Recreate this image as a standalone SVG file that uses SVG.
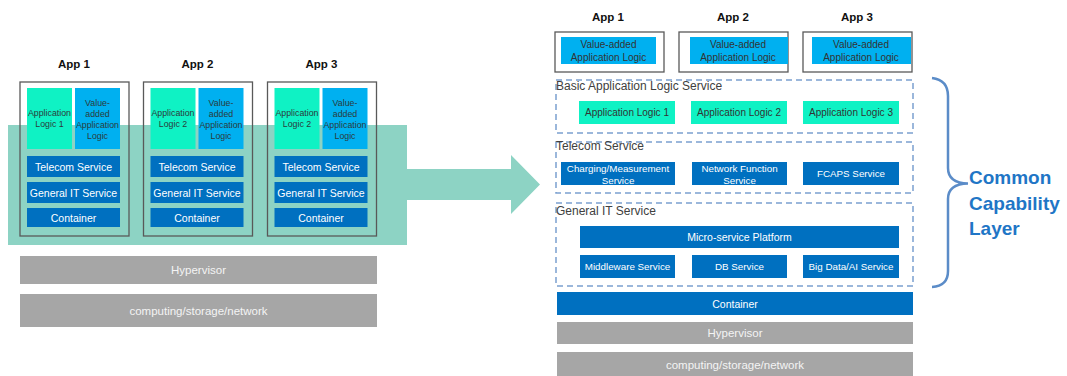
<svg xmlns="http://www.w3.org/2000/svg" width="1067" height="376" viewBox="0 0 1067 376">
<style>
text{font-family:"Liberation Sans",Arial,sans-serif;text-anchor:middle;dominant-baseline:central}
.title{font-weight:bold;font-size:11.5px;fill:#111}
.appbox{fill:none;stroke:#595959;stroke-width:1.3}
.cyan{fill:#0FF2C4}
.va{fill:#00B0F0}
.blue{fill:#0070C0}
.gray{fill:#A6A6A6}
.tsm{font-size:8.8px;fill:#2b3b3b}
.tw{font-size:10.5px;fill:#fff}
.tw10{font-size:9.8px;fill:#fff}
.tg{font-size:11.5px;fill:#f4f4f4}
.td{font-size:10px;fill:#333}
.dash{fill:none;stroke:#7BA0D0;stroke-width:1.5;stroke-dasharray:6 4}
.lbl{font-size:12px;fill:#404040;text-anchor:start}
</style>

<g id="migration-arrow">
<polygon points="8,125 407,125 407,169 511,169 511,155 540,184.5 511,214 511,200 407,200 407,245 8,245" fill="#8DD3C4"/>
</g>

<g id="left-app1">
<text class="title" x="74" y="64">App 1</text>
<rect class="appbox" x="20" y="82" width="109" height="154"/>
<rect class="cyan" x="27" y="88" width="45" height="61"/>
<text class="tsm" x="49.5" y="113">Application</text>
<text class="tsm" x="49.5" y="124">Logic 1</text>
<rect class="va" x="75" y="88" width="45" height="61"/>
<text class="tsm" x="97.5" y="103">Value-</text>
<text class="tsm" x="97.5" y="113.5">added</text>
<text class="tsm" x="97.5" y="124.5">Application</text>
<text class="tsm" x="97.5" y="135.5">Logic</text>
<rect class="blue" x="27" y="156" width="93" height="21"/>
<text class="tw" x="73.5" y="166.5">Telecom Service</text>
<rect class="blue" x="27" y="182" width="93" height="21"/>
<text class="tw" x="73.5" y="192.5">General IT Service</text>
<rect class="blue" x="27" y="208" width="93" height="19"/>
<text class="tw" x="73.5" y="217.5">Container</text>
</g>

<g id="left-app2">
<text class="title" x="197.5" y="64">App 2</text>
<rect class="appbox" x="143.5" y="82" width="109" height="154"/>
<rect class="cyan" x="150.5" y="88" width="45" height="61"/>
<text class="tsm" x="173" y="113">Application</text>
<text class="tsm" x="173" y="124">Logic 2</text>
<rect class="va" x="198.5" y="88" width="45" height="61"/>
<text class="tsm" x="221" y="103">Value-</text>
<text class="tsm" x="221" y="113.5">added</text>
<text class="tsm" x="221" y="124.5">Application</text>
<text class="tsm" x="221" y="135.5">Logic</text>
<rect class="blue" x="150.5" y="156" width="93" height="21"/>
<text class="tw" x="197" y="166.5">Telecom Service</text>
<rect class="blue" x="150.5" y="182" width="93" height="21"/>
<text class="tw" x="197" y="192.5">General IT Service</text>
<rect class="blue" x="150.5" y="208" width="93" height="19"/>
<text class="tw" x="197" y="217.5">Container</text>
</g>

<g id="left-app3">
<text class="title" x="321.5" y="64">App 3</text>
<rect class="appbox" x="267.5" y="82" width="109" height="154"/>
<rect class="cyan" x="274.5" y="88" width="45" height="61"/>
<text class="tsm" x="297" y="113">Application</text>
<text class="tsm" x="297" y="124">Logic 2</text>
<rect class="va" x="322.5" y="88" width="45" height="61"/>
<text class="tsm" x="345" y="103">Value-</text>
<text class="tsm" x="345" y="113.5">added</text>
<text class="tsm" x="345" y="124.5">Application</text>
<text class="tsm" x="345" y="135.5">Logic</text>
<rect class="blue" x="274.5" y="156" width="93" height="21"/>
<text class="tw" x="321" y="166.5">Telecom Service</text>
<rect class="blue" x="274.5" y="182" width="93" height="21"/>
<text class="tw" x="321" y="192.5">General IT Service</text>
<rect class="blue" x="274.5" y="208" width="93" height="19"/>
<text class="tw" x="321" y="217.5">Container</text>
</g>

<g id="left-hypervisor">
<rect class="gray" x="20" y="256" width="357" height="28"/>
<text class="tg" x="198.5" y="270">Hypervisor</text>
</g>
<g id="left-infra">
<rect class="gray" x="20" y="294" width="357" height="33"/>
<text class="tg" x="198.5" y="310.5">computing/storage/network</text>
</g>

<g id="right-app1">
<text class="title" x="608" y="17">App 1</text>
<rect class="appbox" x="555" y="32" width="109" height="40"/>
<rect class="va" x="561" y="37" width="95" height="27"/>
<text class="td" x="608.5" y="44">Value-added</text>
<text class="td" x="608.5" y="57">Application Logic</text>
</g>
<g id="right-app2">
<text class="title" x="733" y="17">App 2</text>
<rect class="appbox" x="679" y="32" width="109" height="40"/>
<rect class="va" x="690" y="37" width="98" height="27"/>
<text class="td" x="738" y="44">Value-added</text>
<text class="td" x="738" y="57">Application Logic</text>
</g>
<g id="right-app3">
<text class="title" x="857" y="17">App 3</text>
<rect class="appbox" x="803" y="32" width="109" height="40"/>
<rect class="va" x="812" y="37" width="99" height="27"/>
<text class="td" x="861" y="44">Value-added</text>
<text class="td" x="861" y="57">Application Logic</text>
</g>

<g id="basic-app-logic-service">
<rect class="dash" x="556" y="80" width="357" height="53"/>
<text class="lbl" x="556" y="86">Basic Application Logic Service</text>
<rect class="cyan" x="579" y="101" width="96" height="23"/>
<text class="td" x="627" y="112.5">Application Logic 1</text>
<rect class="cyan" x="691" y="101" width="96" height="23"/>
<text class="td" x="739" y="112.5">Application Logic 2</text>
<rect class="cyan" x="803" y="101" width="96" height="23"/>
<text class="td" x="851" y="112.5">Application Logic 3</text>
</g>

<g id="telecom-service">
<rect class="dash" x="556" y="142" width="357" height="51"/>
<text class="lbl" x="556" y="146">Telecom Service</text>
<rect class="blue" x="561" y="162" width="114" height="23"/>
<text class="tw10" x="618" y="168">Charging/Measurement</text>
<text class="tw10" x="618" y="180">Service</text>
<rect class="blue" x="692" y="162" width="95" height="23"/>
<text class="tw10" x="739.5" y="168">Network Function</text>
<text class="tw10" x="739.5" y="180">Service</text>
<rect class="blue" x="803" y="162" width="96" height="23"/>
<text class="tw10" x="851" y="173.5">FCAPS Service</text>
</g>

<g id="general-it-service">
<rect class="dash" x="556" y="203" width="357" height="83"/>
<text class="lbl" x="556" y="211">General IT Service</text>
<rect class="blue" x="580" y="226" width="319" height="22"/>
<text class="tw" x="739.5" y="237">Micro-service Platform</text>
<rect class="blue" x="580" y="255" width="95" height="23"/>
<text class="tw10" x="627.5" y="266.5">Middleware Service</text>
<rect class="blue" x="692" y="255" width="95" height="23"/>
<text class="tw10" x="739.5" y="266.5">DB Service</text>
<rect class="blue" x="803" y="255" width="96" height="23"/>
<text class="tw10" x="851" y="266.5">Big Data/AI Service</text>
</g>

<g id="right-container">
<rect class="blue" x="557" y="292" width="356" height="23"/>
<text class="tw" x="735" y="303.5">Container</text>
</g>
<g id="right-hypervisor">
<rect class="gray" x="557" y="322" width="356" height="22"/>
<text class="tg" x="735" y="333">Hypervisor</text>
</g>
<g id="right-infra">
<rect class="gray" x="557" y="352" width="356" height="24"/>
<text class="tg" x="735" y="365">computing/storage/network</text>
</g>

<g id="common-capability-layer">
<path d="M932,78 Q948,80 948,96 L948,168 Q948,183 968,183.5 Q948,184 948,199 L948,271 Q948,286 932,287" fill="none" stroke="#5B8CC8" stroke-width="2.5"/>
<text x="969" y="177" style="text-anchor:start;font-weight:bold;font-size:19px;fill:#1F76C6">Common</text>
<text x="969" y="203" style="text-anchor:start;font-weight:bold;font-size:19px;fill:#1F76C6">Capability</text>
<text x="969" y="228" style="text-anchor:start;font-weight:bold;font-size:19px;fill:#1F76C6">Layer</text>
</g>
</svg>
